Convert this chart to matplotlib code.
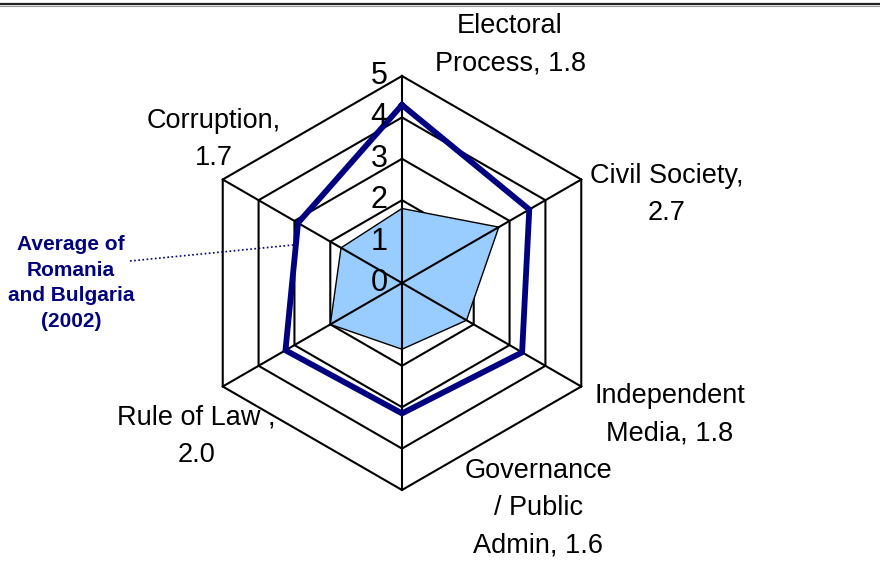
import numpy as np
import matplotlib
matplotlib.use("Agg")
import matplotlib.pyplot as plt
from matplotlib.lines import Line2D
from matplotlib.transforms import offset_copy

plt.rcParams["font.family"] = ["Liberation Sans", "DejaVu Sans"]

# axes clockwise from the top
categories = ["Electoral\nProcess, 1.8", "Civil Society,\n2.7", "Independent\nMedia, 1.8",
              "Governance\n/ Public\nAdmin, 1.6", "Rule of Law ,\n2.0", "Corruption,\n1.7"]
scores = [1.8, 2.7, 1.8, 1.6, 2.0, 1.7]
avg_ro_bg = [4.3, 3.55, 3.35, 3.15, 3.25, 2.9]
rings = [1, 2, 3, 4, 5]
tick_vals = [0, 1, 2, 3, 4, 5]
avg_label = "Average of\nRomania\nand Bulgaria\n(2002)"

W, H = 880, 578
fig = plt.figure(figsize=(W / 100, H / 100), dpi=100)

# center (402, 283) px, outer radius ~207 px
cx, cy, rad = 402, 283, 207
ax = fig.add_axes([(cx - rad) / W, 1 - (cy + rad) / H, 2 * rad / W, 2 * rad / H],
                  projection="polar")
ax.set_theta_zero_location("N")
ax.set_theta_direction(-1)
ax.set_ylim(0, 5)
ax.set_axis_off()

n = len(scores)
theta = np.linspace(0, 2 * np.pi, n, endpoint=False)
theta_c = np.append(theta, theta[0])

def closed(vals):
    return list(vals) + [vals[0]]

# hexagon rings sit under the fill, spokes on top
for r in rings:
    ax.plot(theta_c, [r] * (n + 1), color="black", lw=1.5, clip_on=False, zorder=0.5)
ax.fill(theta_c, closed(scores), facecolor="#99CCFF", edgecolor="black", lw=1.0, zorder=1)
for t in theta:
    ax.plot([t, t], [0, 5], color="black", lw=1.5, clip_on=False, zorder=3)

# average line
ax.plot(theta_c, closed(avg_ro_bg), color="#000080", lw=4.2, clip_on=False, zorder=4,
        solid_joinstyle="miter")

# tick labels on the top axis
trans = offset_copy(ax.transData, fig=fig, x=-23, y=0, units="dots")
for v in tick_vals:
    ax.text(0, v, str(v), transform=trans, ha="center", va="center", fontsize=22, zorder=5)

# category labels (cap-top y, center x in px)
label_pos = [(510, 13), (667, 163), (670, 383), (538, 458), (196, 405), (214, 108)]
for txt, (lx, ly) in zip(categories, label_pos):
    fig.text(lx / W, 1 - ly / H, txt, ha="center", va="top", fontsize=19.5, linespacing=1.55)

# annotation for the average line
fig.text(71 / W, 1 - 283 / H, avg_label, ha="center", va="center", fontsize=15,
         fontweight="bold", color="#000080", linespacing=1.45)
fig.add_artist(Line2D([130 / W, 293 / W], [1 - 261 / H, 1 - 245 / H], color="#000080",
                      lw=1.2, ls=(0, (1, 1.5))))

# top border
fig.add_artist(Line2D([0, 1], [1 - 3.5 / H, 1 - 3.5 / H], color="#222222", lw=1.6))
fig.add_artist(Line2D([0, 1], [1 - 6 / H, 1 - 6 / H], color="#999999", lw=0.8))

fig.savefig("out.png", dpi=100)
